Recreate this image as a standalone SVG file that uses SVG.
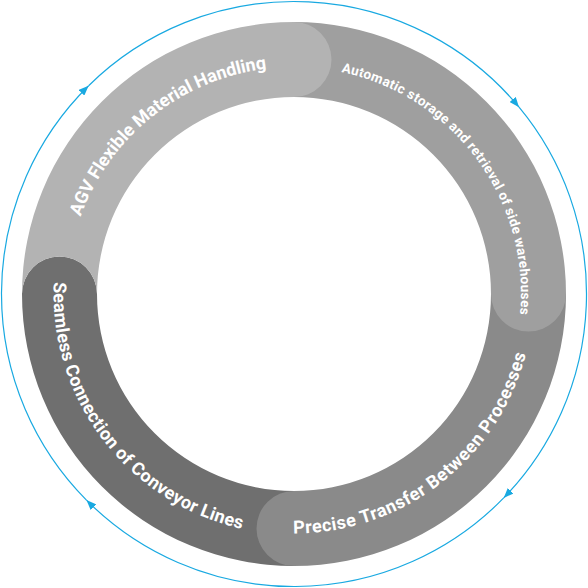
<svg xmlns="http://www.w3.org/2000/svg" width="588" height="588" viewBox="0 0 588 588">
<style>
.lbl{font-family:Roboto,"Liberation Sans",sans-serif;font-weight:700;fill:#ffffff;}
.big{font-size:18px;}
.small{font-size:13.5px;}
.flow{fill:none;stroke:#19a9e1;stroke-width:1.2;}
</style>
<defs>
<marker id="arr" viewBox="0 0 10 8" refX="10" refY="4" markerWidth="10" markerHeight="8" markerUnits="userSpaceOnUse" orient="auto">
<path d="M0,0 L10,4 L0,8 Z" fill="#19a9e1"/>
</marker>
<path id="tp1" d="M 67.08 288.06 A 227 227 0 0 1 339.26 71.56"/>
<path id="tp2" d="M 288.45 67.07 A 227 227 0 0 1 509.14 366.40"/>
<path id="tp3" d="M 242.77 527.96 A 239.5 239.5 0 0 0 533.30 303.82"/>
<path id="tp4" d="M 59.38 241.13 A 240.5 240.5 0 0 0 282.67 534.23"/>
</defs>
<rect width="588" height="588" fill="#ffffff"/>
<g id="connectors">
<path class="flow" d="M 86.45 500.10 A 292.5 292.5 0 0 1 88.62 85.73" marker-end="url(#arr)"/>
<path class="flow" d="M 88.62 85.73 A 292.5 292.5 0 0 1 519.05 107.16" marker-end="url(#arr)"/>
<path class="flow" d="M 519.05 107.16 A 292.5 292.5 0 0 1 503.70 497.92" marker-end="url(#arr)"/>
<path class="flow" d="M 503.70 497.92 A 292.5 292.5 0 0 1 86.45 500.10" marker-end="url(#arr)"/>
</g>
<g id="node-conveyor">
<path d="M 294 566 A 272 272 0 0 1 22 294 A 37.5 37.5 0 0 1 97 294 A 197 197 0 0 0 294 491 Z" fill="#6f6f6f"/>
<text class="lbl big" text-anchor="middle"><textPath href="#tp4" startOffset="50%" textLength="337" lengthAdjust="spacing">Seamless Connection of Conveyor Lines</textPath></text>
</g>
<g id="node-transfer">
<path d="M 566 294 A 272 272 0 0 1 294 566 A 37.5 37.5 0 0 1 294 491 A 197 197 0 0 0 491 294 Z" fill="#8a8a8a"/>
<text class="lbl big" text-anchor="middle"><textPath href="#tp3" startOffset="50%" textLength="316" lengthAdjust="spacing">Precise Transfer Between Processes</textPath></text>
</g>
<g id="node-storage">
<path d="M 294 22 A 272 272 0 0 1 566 294 A 37.5 37.5 0 0 1 491 294 A 197 197 0 0 0 294 97 Z" fill="#9f9f9f"/>
<text class="lbl small" text-anchor="middle"><textPath href="#tp2" startOffset="50%" textLength="329" lengthAdjust="spacing">Automatic storage and retrieval of side warehouses</textPath></text>
</g>
<g id="node-agv">
<path d="M 22 294 A 272 272 0 0 1 294 22 A 37.5 37.5 0 0 1 294 97 A 197 197 0 0 0 97 294 A 37.5 37.5 0 0 0 22 294 Z" fill="#b3b3b3"/>
<text class="lbl big" text-anchor="middle"><textPath href="#tp1" startOffset="50%" textLength="250" lengthAdjust="spacing">AGV Flexible Material Handling</textPath></text>
</g>
</svg>
